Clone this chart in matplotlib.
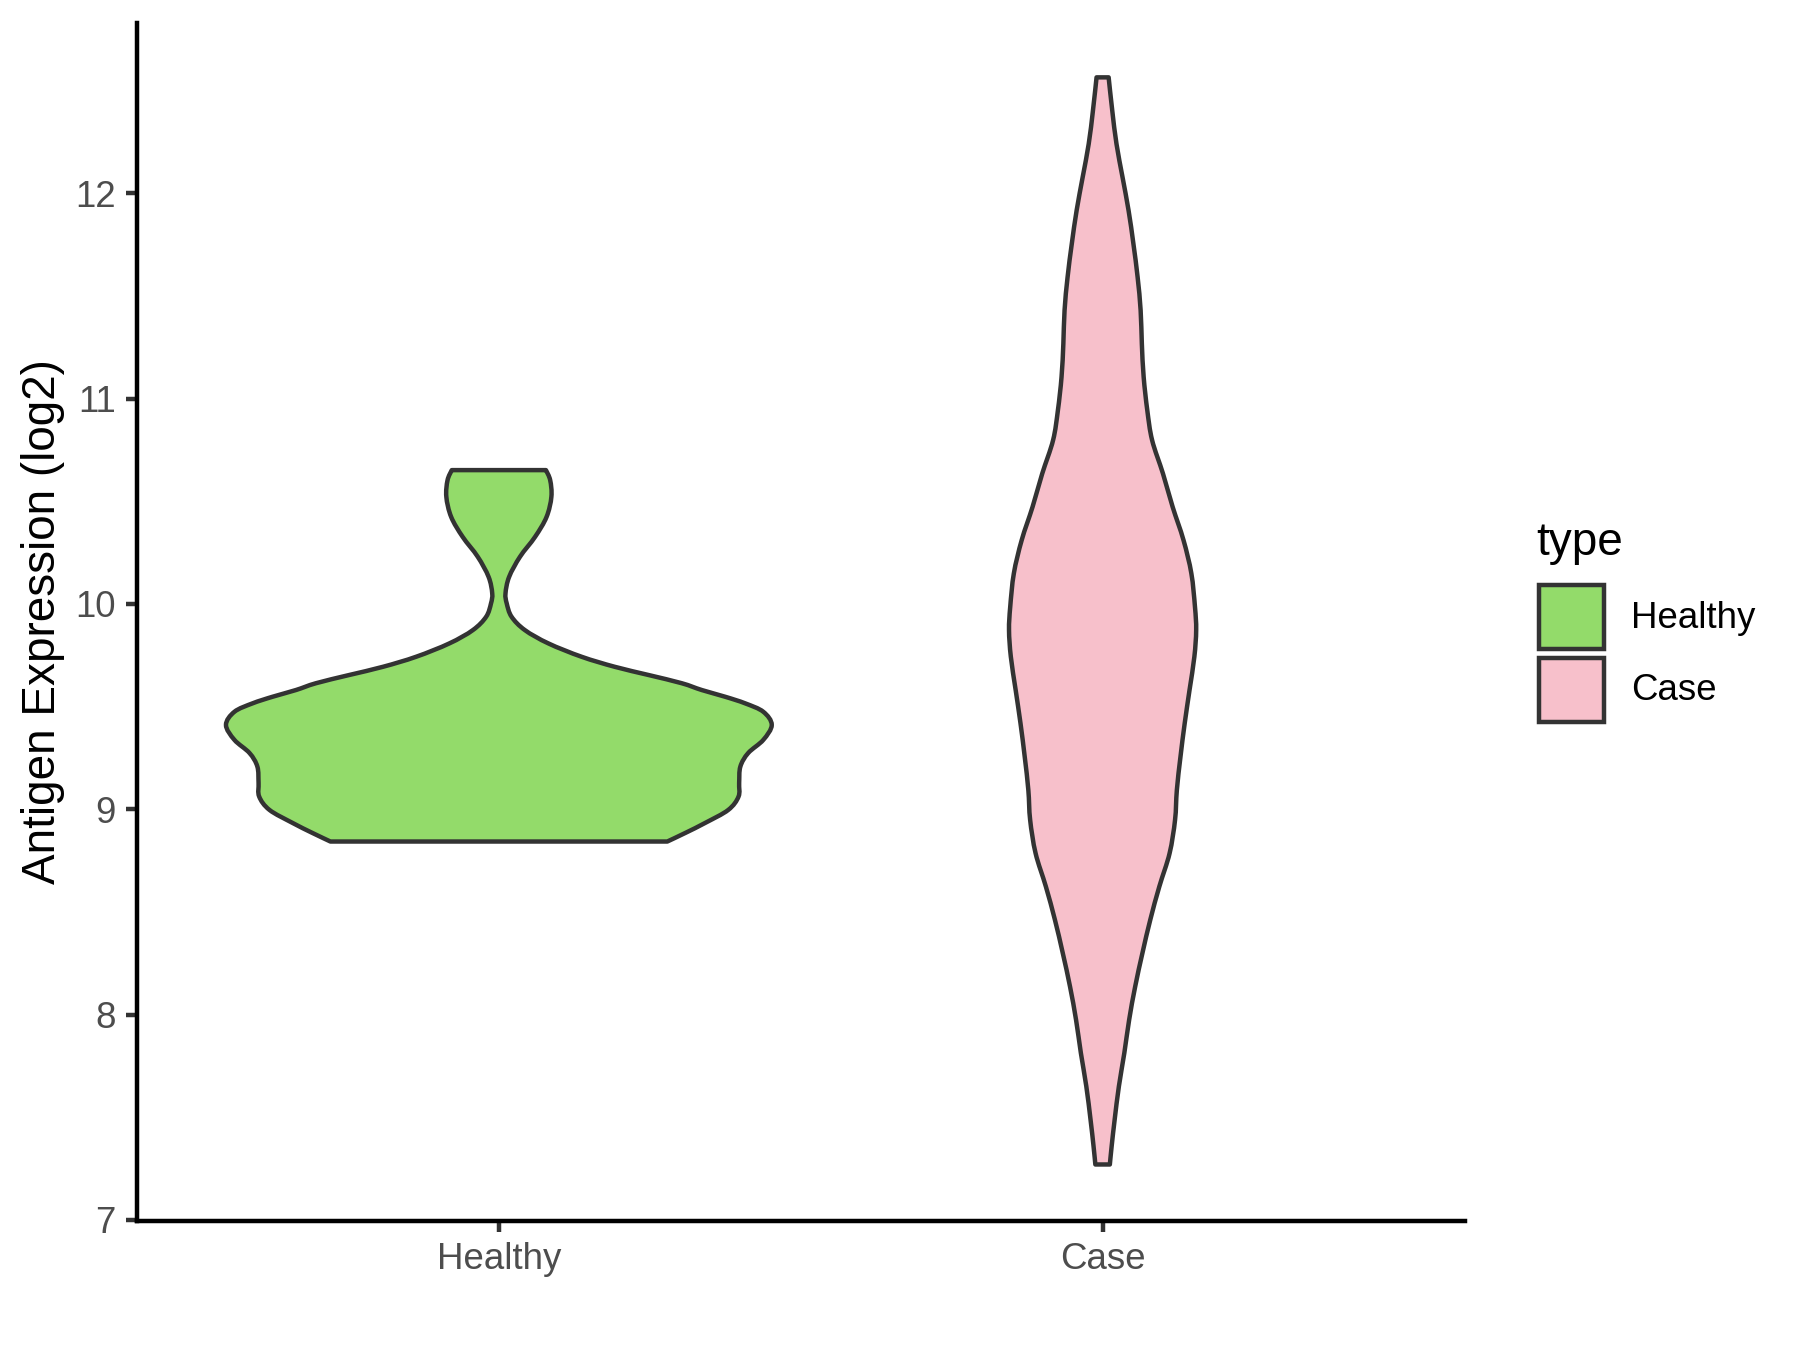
import matplotlib
matplotlib.use("Agg")
import matplotlib.pyplot as plt
from matplotlib.patches import Rectangle, PathPatch
from matplotlib.path import Path
import numpy as np

plt.rcParams['font.family'] = ['Liberation Sans', 'DejaVu Sans']

# categories and fill colours
groups = ['Healthy', 'Case']
colors = ['#93DB6A', '#F7C0CB']
edge = '#333333'

# violin outlines: y value and half width (category units)
healthy_y = [8.843, 8.885, 8.934, 8.997, 9.062, 9.128, 9.208, 9.274, 9.338, 9.411,
             9.475, 9.516, 9.548, 9.581, 9.614, 9.654, 9.694, 9.743, 9.808, 9.873,
             9.938, 10.003, 10.052, 10.132, 10.230, 10.327, 10.424, 10.522, 10.603,
             10.652]
healthy_w = [0.279, 0.309, 0.342, 0.380, 0.397, 0.398, 0.400, 0.413, 0.438, 0.452,
             0.438, 0.408, 0.375, 0.336, 0.303, 0.248, 0.192, 0.137, 0.082, 0.043,
             0.021, 0.013, 0.011, 0.017, 0.035, 0.060, 0.079, 0.087, 0.085,
             0.078]

case_y = [7.270, 7.359, 7.489, 7.651, 7.813, 7.975, 8.137, 8.300, 8.462, 8.624,
          8.786, 8.948, 9.094, 9.256, 9.419, 9.581, 9.743, 9.873, 9.986, 10.149,
          10.311, 10.473, 10.635, 10.798, 10.944, 11.106, 11.268, 11.430, 11.592,
          11.755, 11.917, 12.079, 12.241, 12.403, 12.565]
case_w = [0.012, 0.015, 0.020, 0.027, 0.036, 0.044, 0.054, 0.066, 0.079, 0.094,
          0.111, 0.120, 0.123, 0.129, 0.136, 0.144, 0.152, 0.155, 0.153, 0.147,
          0.134, 0.116, 0.100, 0.082, 0.074, 0.068, 0.065, 0.063, 0.058,
          0.051, 0.043, 0.033, 0.023, 0.016, 0.010]

y_ticks = [7, 8, 9, 10, 11, 12]


def smooth_side(pts):
    # bezier control points through the read points (catmull-rom style)
    verts, codes = [], []
    n = len(pts)
    for k in range(n - 1):
        p0 = pts[max(k - 1, 0)]
        p1 = pts[k]
        p2 = pts[k + 1]
        p3 = pts[min(k + 2, n - 1)]
        c1 = p1 + (p2 - p0) / 6.0
        c2 = p2 - (p3 - p1) / 6.0
        verts += [c1, c2, p2]
        codes += [Path.CURVE4] * 3
    return verts, codes


def violin_path(pos, ys, ws):
    ys = np.array(ys)
    ws = np.array(ws)
    left = np.column_stack([pos - ws, ys])            # bottom -> top
    right = np.column_stack([pos + ws, ys])[::-1]     # top -> bottom
    verts = [left[0]]
    codes = [Path.MOVETO]
    v, c = smooth_side(left)
    verts += v
    codes += c
    verts.append(right[0])
    codes.append(Path.LINETO)
    v, c = smooth_side(right)
    verts += v
    codes += c
    verts.append(left[0])
    codes.append(Path.CLOSEPOLY)
    return Path(verts, codes)


fig = plt.figure(figsize=(6, 4.5), dpi=300)
ax = fig.add_axes([0.0759, 0.0956, 0.7379, 0.8874])

profiles = [(healthy_y, healthy_w), (case_y, case_w)]
for i, (ys, ws) in enumerate(profiles):
    patch = PathPatch(violin_path(i, ys, ws), facecolor=colors[i],
                      edgecolor=edge, linewidth=1.07, joinstyle='round')
    ax.add_patch(patch)

ax.set_xlim(-0.6, 1.6)
ax.set_ylim(6.995, 12.83)
ax.set_xticks(range(len(groups)))
ax.set_xticklabels(groups)
ax.set_yticks(y_ticks)

for s in ['top', 'right']:
    ax.spines[s].set_visible(False)
for s in ['left', 'bottom']:
    ax.spines[s].set_linewidth(1.07)
    ax.spines[s].set_color('black')

ax.tick_params(axis='both', length=2.75, width=1.07, color=edge,
               labelsize=8.8, labelcolor='#4D4D4D', pad=2.2)
ax.set_ylabel('Antigen Expression (log2)', fontsize=11, color='black', labelpad=2.5)

# legend drawn by hand to match the ggplot layout
W, H = 1800.0, 1350.0
fig.text(1536 / W, 1 - 555 / H, 'type', fontsize=11, ha='left', va='baseline')
key_tops = [585, 657.5]
for i, g in enumerate(groups):
    top = key_tops[i]
    fig.add_artist(Rectangle((1539 / W, 1 - (top + 64) / H), 65 / W, 64 / H,
                             transform=fig.transFigure, facecolor=colors[i],
                             edgecolor=edge, linewidth=1.07))
    fig.text(1631 / W, 1 - (top + 33) / H, g, fontsize=8.8, ha='left',
             va='center')

fig.savefig('out.png', dpi=300)
